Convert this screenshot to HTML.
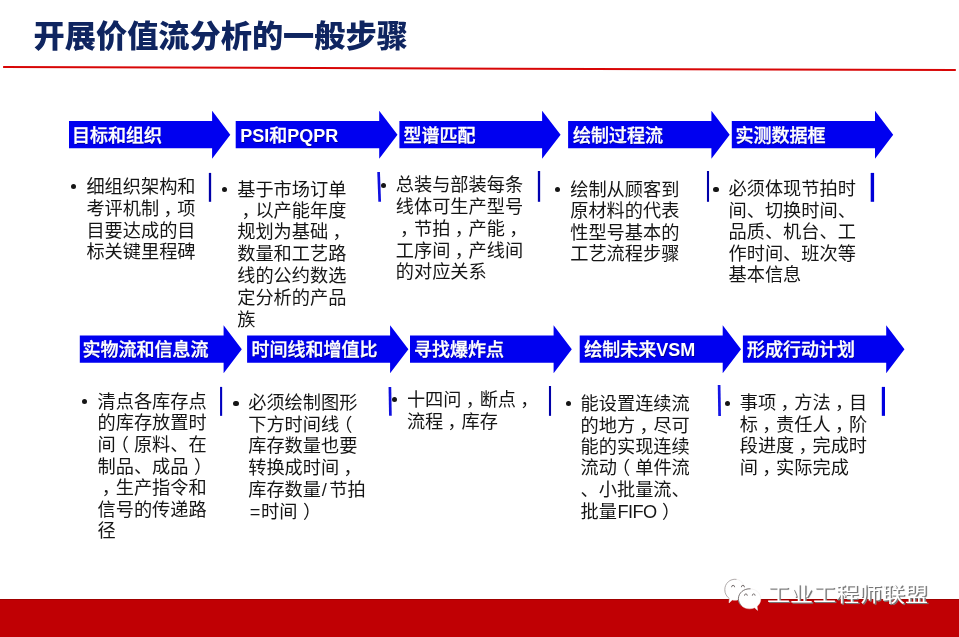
<!DOCTYPE html>
<html lang="zh-CN"><head><meta charset="utf-8"><title>开展价值流分析的一般步骤</title>
<style>
html,body{margin:0;padding:0;background:#fff;}
body{width:959px;height:637px;position:relative;overflow:hidden;font-family:"Liberation Sans","Noto Sans CJK SC",sans-serif;}
.shapes{position:absolute;left:0;top:0;}
.layer{position:absolute;left:0;top:0;width:959px;height:637px;will-change:transform;}
.t{position:absolute;white-space:nowrap;line-height:1;}
.title{left:33.6px;top:21.1px;font-size:31.2px;font-weight:900;color:#0f2560;letter-spacing:0;}
.h{font-size:18px;font-weight:500;-webkit-text-stroke:0.35px #fff;color:#fff;height:20px;line-height:20px;text-shadow:0.6px 0.6px 0.6px rgba(0,0,70,0.55);}
.h b{font-weight:700;-webkit-text-stroke:0;}
.b{font-size:18.2px;color:#151515;height:22px;line-height:22px;font-weight:400;}
.b i{font-style:normal;position:relative;}
.dot{position:absolute;width:5.2px;height:5.2px;border-radius:50%;background:#151515;}
.wm{left:767px;top:583px;font-size:23px;font-weight:400;color:#fff;text-shadow:1px 1px 0 #777,1.4px 1.4px 0.8px #8a8a8a;transform:scaleY(0.9);transform-origin:0 20.7px;}
</style></head><body>
<svg class="shapes" width="959" height="637" viewBox="0 0 959 637">
<rect x="0" y="599" width="959" height="38" fill="#c00004"/>
<rect x="0" y="599" width="959" height="1" fill="#a00000"/>
<line x1="3.1" y1="67.1" x2="955.8" y2="70.0" stroke="#d80606" stroke-width="2"/>
<g fill="#0000f0">
<polygon points="69.0,121.1 212.1,121.1 212.1,110.7 230.3,134.75 212.1,158.8 212.1,148.2 69.0,148.2"/>
<polygon points="235.7,121.1 379.2,121.1 379.2,110.7 397.5,134.75 379.2,158.8 379.2,148.2 235.7,148.2"/>
<polygon points="399.4,121.1 542.1,121.1 542.1,110.7 560.6,134.75 542.1,158.8 542.1,148.2 399.4,148.2"/>
<polygon points="568.1,121.1 711.4,121.1 711.4,110.7 729.7,134.75 711.4,158.8 711.4,148.2 568.1,148.2"/>
<polygon points="731.8,121.1 875,121.1 875,110.7 893.2,134.75 875,158.8 875,148.2 731.8,148.2"/>
<polygon points="79.8,335.6 223.6,335.6 223.6,325.2 241.8,349.25 223.6,373.3 223.6,362.7 79.8,362.7"/>
<polygon points="247.1,335.6 390.1,335.6 390.1,325.2 408.4,349.25 390.1,373.3 390.1,362.7 247.1,362.7"/>
<polygon points="410.0,335.6 553.6,335.6 553.6,325.2 571.8,349.25 553.6,373.3 553.6,362.7 410.0,362.7"/>
<polygon points="579.7,335.6 722.7,335.6 722.7,325.2 741,349.25 722.7,373.3 722.7,362.7 579.7,362.7"/>
<polygon points="742.9,335.6 886.2,335.6 886.2,325.2 904.5,349.25 886.2,373.3 886.2,362.7 742.9,362.7"/>
</g>
<g>
<line x1="210" y1="172.9" x2="210" y2="201.8" stroke="#0000a8" stroke-width="2.3"/>
<line x1="378.6" y1="172" x2="379.7" y2="201.8" stroke="#1010e0" stroke-width="2.7"/>
<line x1="539" y1="171" x2="539" y2="201.8" stroke="#0000b0" stroke-width="2.3"/>
<line x1="708" y1="171" x2="708" y2="201.8" stroke="#0000a8" stroke-width="2.1"/>
<line x1="872.4" y1="172.9" x2="872.4" y2="201.8" stroke="#0000d8" stroke-width="3.4"/>
<line x1="221.1" y1="386.9" x2="221.1" y2="415.85" stroke="#0000c0" stroke-width="2.1"/>
<line x1="389.9" y1="387" x2="390.4" y2="415.85" stroke="#1010e0" stroke-width="2.7"/>
<line x1="550" y1="386" x2="550" y2="415.85" stroke="#0000a8" stroke-width="2.1"/>
<line x1="719.1" y1="385.1" x2="719.6" y2="416.1" stroke="#1515e5" stroke-width="2.7"/>
<line x1="883.4" y1="386.9" x2="883.4" y2="415.85" stroke="#0000e0" stroke-width="3.2"/>
</g>
</svg>
<div class="layer">
<div class="t title">开展价值流分析的一般步骤</div>
<div class="t h" style="left:72.0px;top:125.6px">目标和组织</div>
<div class="t h" style="left:240.2px;top:125.6px"><b>PSI</b>和<b>PQPR</b></div>
<div class="t h" style="left:403.5px;top:125.6px">型谱匹配</div>
<div class="t h" style="left:572.9px;top:125.6px">绘制过程流</div>
<div class="t h" style="left:735.4px;top:125.6px">实测数据框</div>
<div class="t h" style="left:82.5px;top:340.3px">实物流和信息流</div>
<div class="t h" style="left:251.6px;top:340.3px">时间线和增值比</div>
<div class="t h" style="left:414px;top:340.3px">寻找爆炸点</div>
<div class="t h" style="left:584.3px;top:340.3px">绘制未来<b>VSM</b></div>
<div class="t h" style="left:747px;top:340.3px">形成行动计划</div>
<div class="dot" style="left:70.80px;top:183.90px"></div>
<div class="t b" style="left:86.4px;top:175.6px">细组织架构和</div>
<div class="t b" style="left:86.4px;top:197.9px">考评机制<i style="left:4.3px">，</i>项</div>
<div class="t b" style="left:86.4px;top:219.5px">目要达成的目</div>
<div class="t b" style="left:86.4px;top:240.79999999999998px">标关键里程碑</div>
<div class="dot" style="left:222.00px;top:186.70px"></div>
<div class="t b" style="left:237.2px;top:178.6px">基于市场订单</div>
<div class="t b" style="left:237.2px;top:199.6px"><i style="left:4.3px">，</i>以产能年度</div>
<div class="t b" style="left:237.2px;top:221.1px">规划为基础<i style="left:4.3px">，</i></div>
<div class="t b" style="left:237.2px;top:243.1px">数量和工艺路</div>
<div class="t b" style="left:237.2px;top:265.1px">线的公约数选</div>
<div class="t b" style="left:237.2px;top:286.6px">定分析的产品</div>
<div class="t b" style="left:237.2px;top:308.6px">族</div>
<div class="dot" style="left:380.70px;top:182.70px"></div>
<div class="t b" style="left:395.8px;top:174.1px">总装与部装每条</div>
<div class="t b" style="left:395.8px;top:196.1px">线体可生产型号</div>
<div class="t b" style="left:395.8px;top:217.6px"><i style="left:4.3px">，</i>节拍<i style="left:4.3px">，</i>产能<i style="left:4.3px">，</i></div>
<div class="t b" style="left:395.8px;top:239.6px">工序间<i style="left:4.3px">，</i>产线间</div>
<div class="t b" style="left:395.8px;top:261.1px">的对应关系</div>
<div class="dot" style="left:554.80px;top:186.80px"></div>
<div class="t b" style="left:570.2px;top:178.6px">绘制从顾客到</div>
<div class="t b" style="left:570.2px;top:200.1px">原材料的代表</div>
<div class="t b" style="left:570.2px;top:221.79999999999998px">性型号基本的</div>
<div class="t b" style="left:570.2px;top:243.29999999999998px">工艺流程步骤</div>
<div class="dot" style="left:713.40px;top:186.70px"></div>
<div class="t b" style="left:728.5px;top:178.4px">必须体现节拍时</div>
<div class="t b" style="left:728.5px;top:199.6px">间、切换时间、</div>
<div class="t b" style="left:728.5px;top:221.1px">品质、机台、工</div>
<div class="t b" style="left:728.5px;top:242.79999999999998px">作时间、班次等</div>
<div class="t b" style="left:728.5px;top:264.1px">基本信息</div>
<div class="dot" style="left:82.10px;top:398.90px"></div>
<div class="t b" style="left:97.5px;top:390.5px">清点各库存点</div>
<div class="t b" style="left:97.5px;top:411.90000000000003px">的库存放置时</div>
<div class="t b" style="left:97.5px;top:434.1px">间<i style="left:-5px">（</i>原料、在</div>
<div class="t b" style="left:97.5px;top:455.6px">制品、成品<i style="left:5.5px">）</i></div>
<div class="t b" style="left:97.5px;top:477.1px"><i style="left:4.3px">，</i>生产指令和</div>
<div class="t b" style="left:97.5px;top:498.90000000000003px">信号的传递路</div>
<div class="t b" style="left:97.5px;top:520.3000000000001px">径</div>
<div class="dot" style="left:233.40px;top:400.80px"></div>
<div class="t b" style="left:248.2px;top:392.1px">必须绘制图形</div>
<div class="t b" style="left:248.2px;top:414.1px">下方时间线<i style="left:-5px">（</i></div>
<div class="t b" style="left:248.2px;top:435.40000000000003px">库存数量也要</div>
<div class="t b" style="left:248.2px;top:456.90000000000003px">转换成时间<i style="left:4.3px">，</i></div>
<div class="t b" style="left:248.2px;top:479.1px">库存数量<i style="margin:0 2.4px 0 0.8px">/</i>节拍</div>
<div class="t b" style="left:248.2px;top:501.1px"><i style="margin:0 0.7px 0 1.5px">=</i>时间<i style="left:5.5px">）</i></div>
<div class="dot" style="left:391.90px;top:396.60px"></div>
<div class="t b" style="left:406.9px;top:389.1px">十四问<i style="left:4.3px">，</i>断点<i style="left:4.3px">，</i></div>
<div class="t b" style="left:406.9px;top:411.1px">流程<i style="left:4.3px">，</i>库存</div>
<div class="dot" style="left:565.90px;top:400.80px"></div>
<div class="t b" style="left:580.6px;top:392.6px">能设置连续流</div>
<div class="t b" style="left:580.6px;top:414.6px">的地方<i style="left:4.3px">，</i>尽可</div>
<div class="t b" style="left:580.6px;top:435.90000000000003px">能的实现连续</div>
<div class="t b" style="left:580.6px;top:457.40000000000003px">流动<i style="left:-5px">（</i>单件流</div>
<div class="t b" style="left:580.6px;top:479.20000000000005px">、小批量流、</div>
<div class="t b" style="left:580.6px;top:501.1px">批量<span style="letter-spacing:-0.65px;margin-left:0.6px">FIFO</span><i style="left:5.5px">）</i></div>
<div class="dot" style="left:724.60px;top:400.70px"></div>
<div class="t b" style="left:739.7px;top:392.0px">事项<i style="left:4.3px">，</i>方法<i style="left:4.3px">，</i>目</div>
<div class="t b" style="left:739.7px;top:413.6px">标<i style="left:4.3px">，</i>责任人<i style="left:4.3px">，</i>阶</div>
<div class="t b" style="left:739.7px;top:435.20000000000005px">段进度<i style="left:4.3px">，</i>完成时</div>
<div class="t b" style="left:739.7px;top:456.8px">间<i style="left:4.3px">，</i>实际完成</div>
</div>
<svg class="shapes" width="959" height="637" viewBox="0 0 959 637">
<g fill="#ffffff" stroke="#ece8e8" stroke-width="0.5">
<path d="M734.800 579.200c-5.600 0-10 4.600-10 10.500 0 3.700 1.800 7 4.600 8.900l-0.400 4.300 3.300-2.900c0.800 0.200 1.600 0.300 2.500 0.300 5.600 0 10-4.700 10-10.600s-4.400-10.500-10-10.500z"/>
</g>
<path d="M736.500 579.400c-6.500-0.900-11.700 4-11.700 10.300 0 3.700 1.800 7 4.600 8.900" fill="none" stroke="#a29c9c" stroke-width="0.8"/>
<g fill="#ffffff" stroke="#ece8e8" stroke-width="0.5">
<path d="M749.600 588.800c-6.200 0-11.200 4.500-11.200 10 0 5.600 5 10 11.200 10 1.800 0 3.500-0.400 5-1l3 2.600-0.500-4c2.300-1.800 3.700-4.600 3.700-7.600 0-5.500-5-10-11.200-10z"/>
</g>
<path d="M750.500 588.800c-6.800-0.400-12.100 4.300-12.100 10 0 2.600 1.100 5 2.900 6.800" fill="none" stroke="#6e6868" stroke-width="0.9"/>
<g fill="none" stroke="#6a6262" stroke-width="0.9" stroke-linecap="round">
<path d="M731.600 586.800a1.500 1.500 0 0 1 3 0"/><path d="M741.400 586.800a1.500 1.500 0 0 1 3 0"/>
<path d="M744.500 595.300a1.400 1.400 0 0 1 2.800 0"/><path d="M752.300 595.300a1.400 1.400 0 0 1 2.800 0"/>
</g>
</svg>
<div class="layer"><div class="t wm">工业工程师联盟</div></div>
</body></html>
